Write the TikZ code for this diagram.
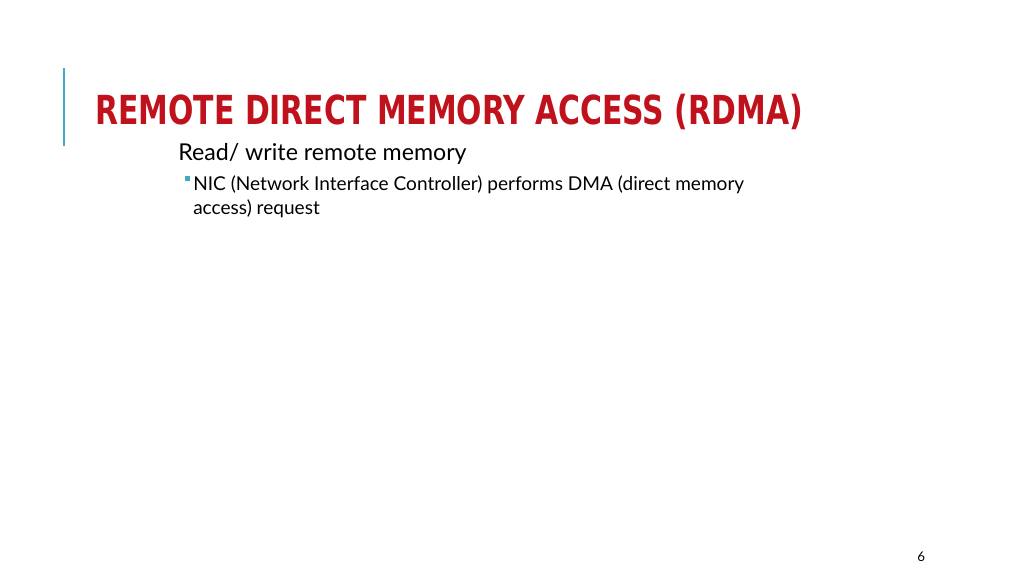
\documentclass[tikz,border=0pt]{standalone}
\usepackage{fontspec}
\setmainfont{Lato}
\newfontfamily\titlefont{DejaVu Sans Condensed}
\definecolor{titlered}{RGB}{192,18,28}
\definecolor{barteal}{RGB}{64,170,196}
\begin{document}
\begin{tikzpicture}[x=0.75pt,y=-0.75pt,
% common options for the text lines:
line/.style = {anchor=base west, inner sep=0}]
\useasboundingbox[fill=white] (0,0) rectangle (1024,576);
\draw[barteal, line width=1.5pt] (64,68) -- (64,146);
\node[line, text=titlered, font=\titlefont\bfseries\fontsize{30}{36}\selectfont] (title) at (95,124) {\scalebox{0.83}[1]{REMOTE DIRECT MEMORY ACCESS (RDMA)}};
\node[line, font=\fontsize{17.4}{20}\selectfont] (read) at (178,160) {Read/ write remote memory};
\node[line, font=\fontsize{14.3}{18}\selectfont] (nic) at (193,190) {NIC (Network Interface Controller) performs DMA (direct memory};
\node[line, font=\fontsize{14.3}{18}\selectfont] (nic2) at (193,214) {access) request};
\fill[barteal] (185,176) rectangle (190,181);
\node[line, font=\rmfamily\fontsize{10}{12}\selectfont] (page) at (917,561) {6};
\end{tikzpicture}
\end{document}
